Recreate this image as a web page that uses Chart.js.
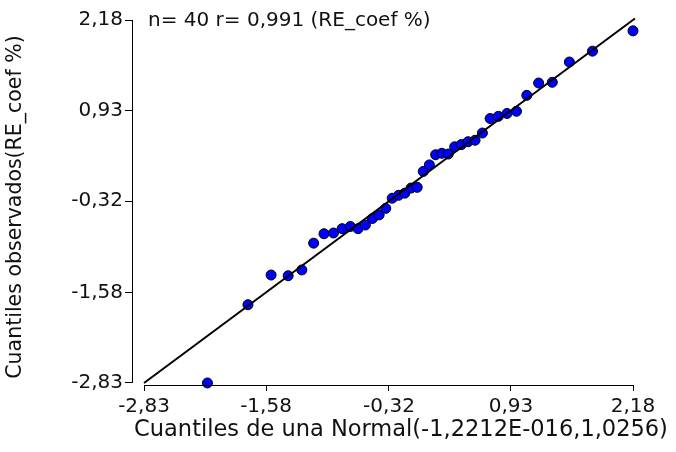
<!DOCTYPE html>
<html>
<head>
<meta charset="utf-8">
<script src="https://cdn.jsdelivr.net/npm/chart.js@4/dist/chart.umd.min.js"></script>
<style>
html,body{margin:0;padding:0;background:#fff;}
canvas{display:block;}
</style>
</head>
<body>
<canvas id="c" width="676" height="452"></canvas>
<script>
// Theoretical normal quantiles (x)
const theoretical = [-2.18, -1.765, -1.528, -1.353, -1.213, -1.092, -0.986, -0.889, -0.80, -0.716,
  -0.637, -0.562, -0.49, -0.421, -0.353, -0.287, -0.222, -0.158, -0.094, -0.031,
  0.031, 0.094, 0.158, 0.222, 0.287, 0.353, 0.421, 0.49, 0.562, 0.637,
  0.716, 0.80, 0.889, 0.986, 1.092, 1.213, 1.353, 1.528, 1.765, 2.18];
const observed = [-2.83, -1.75, -1.34, -1.35, -1.27, -0.90, -0.77, -0.76, -0.70, -0.67,
  -0.70, -0.65, -0.56, -0.51, -0.42, -0.28, -0.24, -0.21, -0.14, -0.13,
  0.09, 0.18, 0.32, 0.34, 0.33, 0.43, 0.46, 0.50, 0.52, 0.62,
  0.82, 0.85, 0.89, 0.92, 1.14, 1.31, 1.32, 1.60, 1.75, 2.03];
// Reference line end points
const lineX = [-2.83, 2.20];
const lineY = [-2.83, 2.20];
// Ticks
const tickValues = [-2.83, -1.58, -0.32, 0.93, 2.18];
const tickLabels = ['-2,83', '-1,58', '-0,32', '0,93', '2,18'];
const annotationText = 'n= 40 r= 0,991 (RE_coef %)';
const xTitle = 'Cuantiles de una Normal(-1,2212E-016,1,0256)';
const yTitle = 'Cuantiles observados(RE_coef %)';

const FONT = "'DejaVu Sans', Verdana, sans-serif";
const TEXT = '#111';

const axesPlugin = {
  id: 'axesPlugin',
  afterDraw(chart) {
    const ctx = chart.ctx;
    const xs = chart.scales.x, ys = chart.scales.y;
    const a = chart.chartArea;
    ctx.save();
    ctx.strokeStyle = '#000';
    ctx.lineWidth = 1;
    ctx.beginPath();
    const lx = Math.round(a.left) + 0.5;
    ctx.moveTo(lx, ys.getPixelForValue(tickValues[tickValues.length-1]));
    ctx.lineTo(lx, ys.getPixelForValue(tickValues[0]));
    const by = Math.round(a.bottom) + 0.5;
    ctx.moveTo(xs.getPixelForValue(tickValues[0]), by);
    ctx.lineTo(xs.getPixelForValue(tickValues[tickValues.length-1]), by);
    ctx.stroke();
    ctx.fillStyle = TEXT;
    ctx.textBaseline = 'middle';
    // annotation
    ctx.font = '20px ' + FONT;
    ctx.textAlign = 'left';
    ctx.fillText(annotationText, a.left + 16, ys.getPixelForValue(tickValues[tickValues.length-1]) + 1);
    // x title
    ctx.font = '22.5px ' + FONT;
    ctx.textAlign = 'center';
    ctx.fillText(xTitle, 401, 430);
    // y title
    ctx.font = '20.5px ' + FONT;
    ctx.translate(16, 207);
    ctx.rotate(-Math.PI / 2);
    ctx.fillText(yTitle, 0, 0);
    ctx.restore();
  }
};

const setTicks = (scale) => {
  scale.ticks = tickValues.map(v => ({value: v}));
};
const fmt = (value) => {
  const i = tickValues.findIndex(t => Math.abs(t - value) < 1e-6);
  return i >= 0 ? tickLabels[i] : '';
};

new Chart(document.getElementById('c'), {
  type: 'scatter',
  data: {
    datasets: [
      {
        label: 'line',
        data: lineX.map((x, i) => ({x, y: lineY[i]})),
        showLine: true,
        borderColor: '#000',
        borderWidth: 2,
        pointRadius: 0,
        order: 0,
        clip: false
      },
      {
        label: 'obs',
        data: theoretical.map((x, i) => ({x, y: observed[i]})),
        backgroundColor: '#0000ff',
        borderColor: '#000',
        borderWidth: 1,
        pointRadius: 5,
        order: 1,
        clip: false
      }
    ]
  },
  options: {
    responsive: false,
    animation: false,
    events: [],
    layout: {padding: {top: 20, right: 43, left: 0, bottom: 0}},
    plugins: {legend: {display: false}, tooltip: {enabled: false}, title: {display: false}},
    scales: {
      x: {
        type: 'linear',
        min: -2.953,
        max: 2.18,
        afterBuildTicks: setTicks,
        afterFit: (s) => { s.height = 67; },
        border: {display: false},
        grid: {display: true, drawOnChartArea: false, drawTicks: true, tickLength: 6, color: '#000', lineWidth: 1},
        ticks: {callback: fmt, color: TEXT, font: {size: 20, family: FONT}, padding: 4, maxRotation: 0, autoSkip: false},
        title: {display: false}
      },
      y: {
        type: 'linear',
        min: -2.858,
        max: 2.18,
        afterBuildTicks: setTicks,
        afterFit: (s) => { s.width = 132; },
        border: {display: false},
        grid: {display: true, drawOnChartArea: false, drawTicks: true, tickLength: 7, color: '#000', lineWidth: 1},
        ticks: {callback: fmt, color: TEXT, font: {size: 20, family: FONT}, padding: 2, autoSkip: false},
        title: {display: false}
      }
    }
  },
  plugins: [axesPlugin]
});
</script>
</body>
</html>
